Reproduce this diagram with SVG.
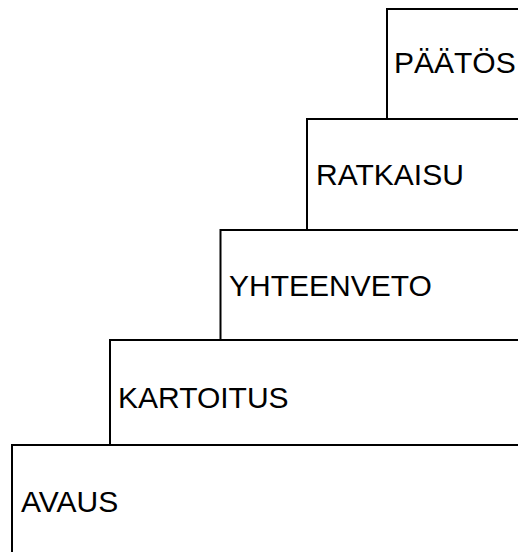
<svg xmlns="http://www.w3.org/2000/svg" width="518" height="552" viewBox="0 0 518 552">
  <style>
    .step rect { fill: #ffffff; stroke: #000000; stroke-width: 2; }
    .step text { font-family: "Liberation Sans", Arial, sans-serif; font-size: 30px; fill: #000000; }
  </style>
  <rect x="0" y="0" width="518" height="552" fill="#ffffff"/>
  <!-- staircase steps, top to bottom; each runs off the right edge -->
  <g id="paatos" class="step">
    <rect x="387" y="9" width="150" height="110"/>
    <text x="394" y="73">PÄÄTÖS</text>
  </g>
  <g id="ratkaisu" class="step">
    <rect x="307" y="119" width="230" height="111"/>
    <text x="316" y="185">RATKAISU</text>
  </g>
  <g id="yhteenveto" class="step">
    <rect x="220.5" y="230" width="320" height="110"/>
    <text x="229" y="296">YHTEENVETO</text>
  </g>
  <g id="kartoitus" class="step">
    <rect x="110" y="340" width="430" height="105"/>
    <text x="118" y="408">KARTOITUS</text>
  </g>
  <g id="avaus" class="step">
    <rect x="12" y="445" width="530" height="130"/>
    <text x="21" y="512">AVAUS</text>
  </g>
  <g id="connectors"/>
</svg>
